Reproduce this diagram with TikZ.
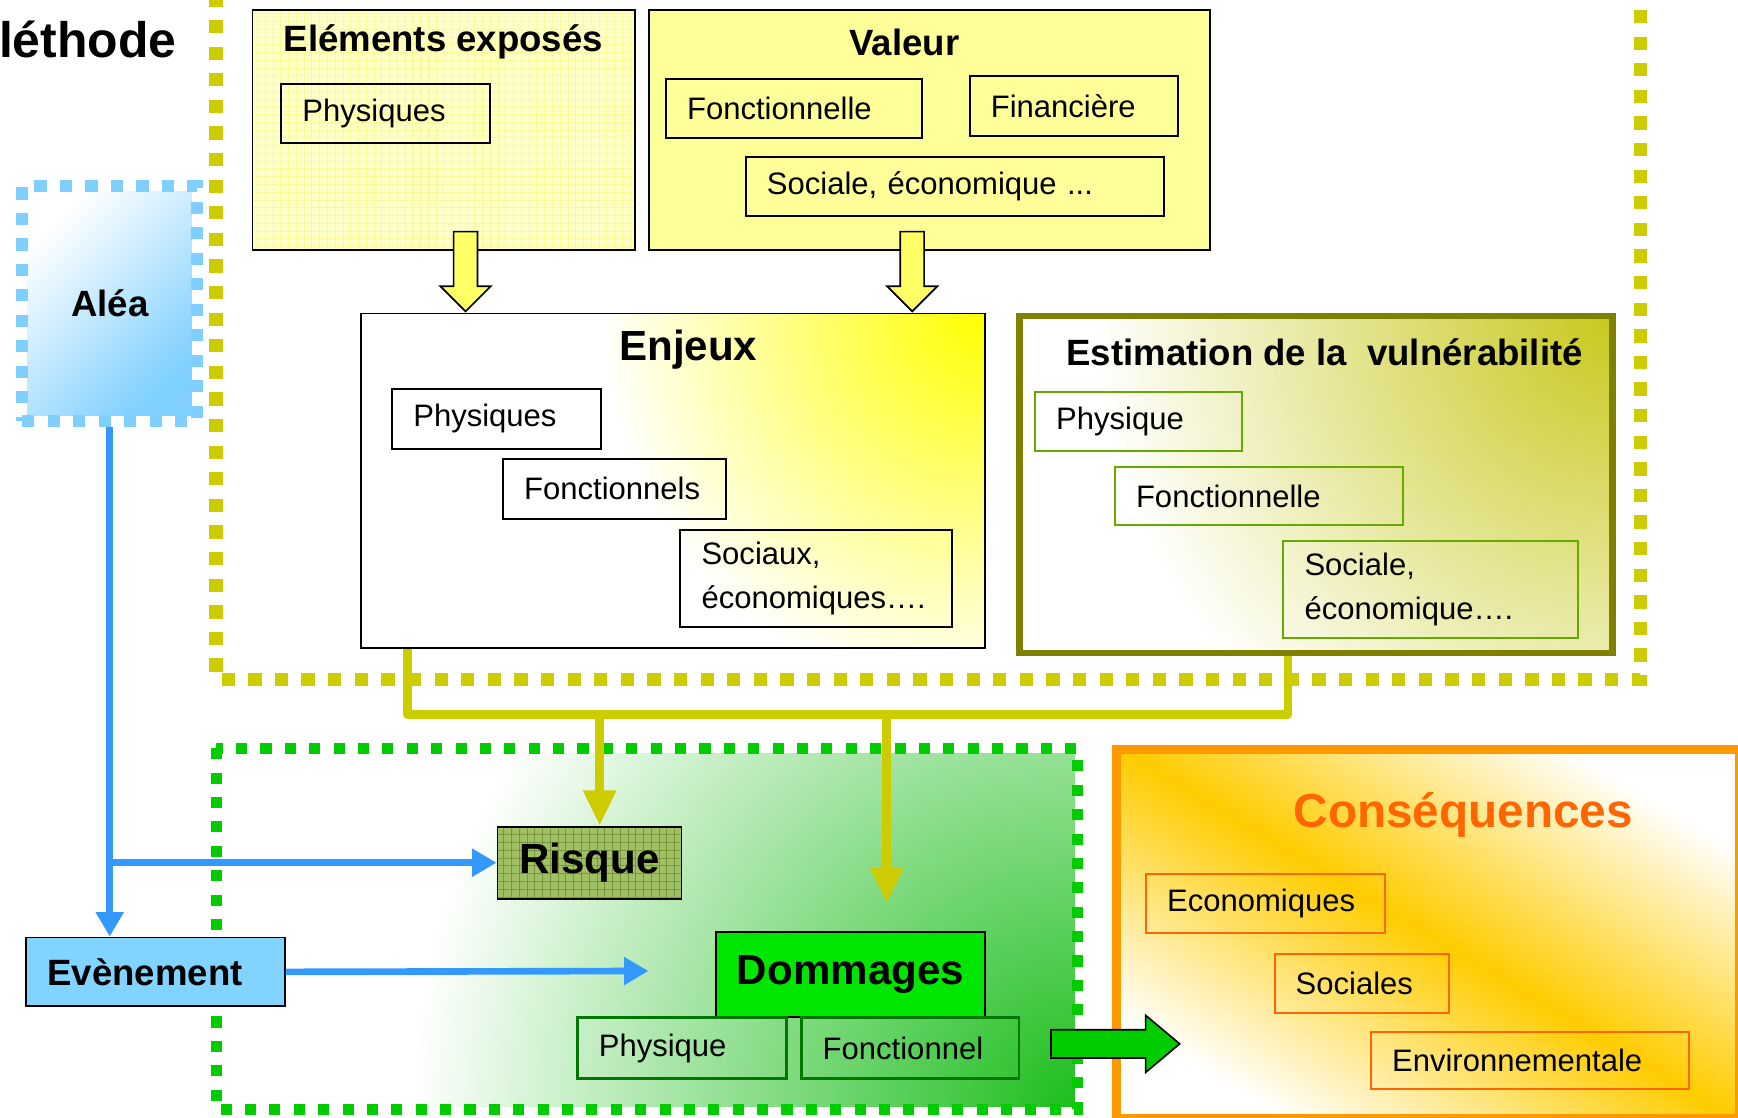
\documentclass[tikz,border=0pt]{standalone}
\usepackage{fontspec}
\setmainfont{Liberation Sans}
\usepackage{tikz}
\usetikzlibrary{arrows.meta, shapes.arrows, calc}

\definecolor{jauneCadre}{RGB}{204,204,0}
\definecolor{jauneEE}{RGB}{255,255,200}
\definecolor{jauneGrille}{RGB}{250,250,150}
\definecolor{jauneVal}{RGB}{255,255,153}
\definecolor{jauneFleche}{RGB}{255,255,102}
\definecolor{oliveBord}{RGB}{128,128,0}
\definecolor{oliveJaune}{RGB}{200,200,30}
\definecolor{vertFin}{RGB}{102,170,0}
\definecolor{vertCadre}{RGB}{0,204,0}
\definecolor{vertFond}{RGB}{30,190,30}
\definecolor{risqueVert}{RGB}{160,192,100}
\definecolor{risqueGrille}{RGB}{120,150,60}
\definecolor{vertDomm}{RGB}{0,230,0}
\definecolor{vertSombre}{RGB}{0,120,0}
\definecolor{bleuCadre}{RGB}{128,208,255}
\definecolor{bleuEvt}{RGB}{128,212,255}
\definecolor{bleuLien}{RGB}{51,153,255}
\definecolor{orangeBord}{RGB}{255,153,0}
\definecolor{orangeTexte}{RGB}{255,102,0}
\definecolor{orBande}{RGB}{255,204,0}
\definecolor{vertFleche}{RGB}{0,204,0}

% halos radiaux (couleur au centre, blanc avant le bord)
\pgfdeclareradialshading{haloJaune}{\pgfpoint{0bp}{0bp}}
  {color(0bp)=(yellow); color(15bp)=(white); color(50bp)=(white)}
\pgfdeclareradialshading{haloOlive}{\pgfpoint{0bp}{0bp}}
  {color(0bp)=(oliveJaune); color(15bp)=(white); color(50bp)=(white)}
\pgfdeclareradialshading{haloVert}{\pgfpoint{0bp}{0bp}}
  {color(0bp)=(vertFond); color(15bp)=(white); color(50bp)=(white)}

\begin{document}
\begin{tikzpicture}[x=1pt, y=-1pt,
    every node/.style={inner sep=0pt},
    cadre/.style={line width=12pt, dash pattern=on 12pt off 12pt},
    panneau/.style={draw, line width=1.6pt, anchor=north west},
    titre/.style={font=\bfseries\fontsize{33}{40}\selectfont},
    grostitre/.style={font=\bfseries\fontsize{38}{46}\selectfont},
    boite/.style={draw, line width=1.8pt, anchor=north west, align=left,
      inner xsep=19pt, font=\fontsize{28}{39}\selectfont},
    quadrille/.style={path picture={\draw[#1, line width=0.6pt]
      (path picture bounding box.south west) grid[step=7pt]
      (path picture bounding box.north east);}},
    halo/.style n args={3}{path picture={\shade[shading=#1]
      (path picture bounding box.#2) circle (#3);}},
    lienJaune/.style={jauneCadre, line width=8pt, line join=round},
    lienBleu/.style={bleuLien, line width=6pt,
      -{Triangle[length=22pt,width=24pt]}},
    bloc/.style={single arrow, draw, line width=1.5pt,
      single arrow head indent=0pt}
  ]
  \useasboundingbox (0,0) rectangle (1568,1008);

  % cadre de la methode
  \draw[cadre, jauneCadre] (195,-6) -- (195,613) -- (1480,613) -- (1480,-6);

  \node[panneau, fill=jauneEE, quadrille=jauneGrille,
    minimum width=345pt, minimum height=217pt] (ee) at (227,8) {};
  \node[titre] (eeTitre) at (400,38) {Eléments exposés};
  \node[boite, text width=150pt, minimum height=53pt] (eePhy) at (253,75) {Physiques};

  \node[panneau, fill=jauneVal, minimum width=506pt, minimum height=217pt] (val) at (585,8) {};
  \node[titre] (valTitre) at (816,38) {Valeur};
  \node[boite, text width=193pt, minimum height=54pt] (valFon) at (600,70) {Fonctionnelle};
  \node[boite, text width=150pt, minimum height=54pt] (valFin) at (874,68) {Financière};
  \node[boite, text width=339pt, minimum height=53pt] (valSoc) at (672,141) {Sociale, économique ...};

  \node[panneau, fill=white, halo={haloJaune}{north east}{580pt},
    minimum width=563pt, minimum height=302pt] (enj) at (325,282) {};
  \node[grostitre] (enjTitre) at (621,315) {Enjeux};
  \node[boite, text width=150pt, minimum height=54pt] (enjPhy) at (353,350) {Physiques};
  \node[boite, text width=163pt, minimum height=54pt] (enjFon) at (453,413) {Fonctionnels};
  \node[boite, text width=207pt, minimum height=88pt] (enjSoc) at (613,477) {Sociaux,\\économiques….};

  \node[bloc, fill=jauneFleche, shape border rotate=270, inner sep=10pt,
    single arrow head extend=12pt, minimum height=72pt, anchor=tip]
    (flEE) at ($(enj.north west)+(95,0)$) {};
  \node[bloc, fill=jauneFleche, shape border rotate=270, inner sep=10pt,
    single arrow head extend=12pt, minimum height=72pt, anchor=tip]
    (flVal) at ($(enj.north west)+(498,0)$) {};

  \node[panneau, draw=oliveBord, line width=6pt, fill=white,
    halo={haloOlive}{north east}{780pt},
    minimum width=535pt, minimum height=304pt] (est) at (917,282) {};
  \node[titre] (estTitre) at (1195,318) {Estimation de la\ \ vulnérabilité};
  \node[boite, draw=vertFin, text width=149pt, minimum height=53pt] (estPhy) at (933,353) {Physique};
  \node[boite, draw=vertFin, text width=222pt, minimum height=53pt] (estFon) at (1005,420) {Fonctionnelle};
  \node[boite, draw=vertFin, text width=228pt, minimum height=88pt] (estSoc) at (1157,487) {Sociale,\\économique….};

  % zone des dommages
  \path[halo={haloVert}{south east}{1000pt}] (200,680) rectangle (970,998);
  \draw[cadre, vertCadre, line width=10pt, dash pattern=on 10pt off 12pt]
    (195,675) rectangle (972,1001);

  \shade[top color=white, bottom color=bleuCadre, shading angle=45] (25,173) rectangle (173,375);
  \node[draw=bleuCadre, line width=11pt, dash pattern=on 11pt off 12pt,
    minimum width=158pt, minimum height=212pt, titre] (ale) at (99,274) {Aléa};

  \node[panneau, fill=bleuEvt, text width=195pt, align=left, inner xsep=19pt,
    minimum height=62pt, titre] (evt) at (23,845) {Evènement};
  \node[panneau, fill=risqueVert, quadrille=risqueGrille, minimum width=166pt,
    minimum height=65pt, grostitre] (ris) at (448,745) {Risque};
  \node[panneau, fill=vertDomm, minimum width=243pt, minimum height=77pt,
    grostitre] (dom) at (645,840) {Dommages};
  \node[boite, draw=vertSombre, line width=2.5pt, text width=150pt, minimum height=55pt]
    (domPhy) at (520,917) {Physique};
  \node[boite, draw=vertSombre, line width=2.5pt, text width=158pt, minimum height=55pt]
    (domFon) at (722,917) {Fonctionnel};

  % liens
  \coordinate (busRis) at (541,644);
  \coordinate (busDom) at (800,644);
  \coordinate (domCible) at (800,815);
  \coordinate (evtFin) at (585,876);
  \draw[lienJaune] ($(enj.south west)+(43,0)$) -- ++(0,59) -| ($(est.south west)+(245,0)$);
  \draw[lienJaune, -{Triangle[length=32pt,width=28pt]}] (busRis) -- (busRis |- ris.north);
  \draw[lienJaune, -{Triangle[length=32pt,width=28pt]}] (busDom) -- (domCible);

  \draw[lienBleu] (ale.south) -- (ale.south |- evt.north);
  \draw[lienBleu] (ale.south |- ris.west) -- (ris.west);
  \draw[lienBleu] (evt.east) -- (evtFin);

  % consequences
  \node[panneau, draw=orangeBord, line width=8pt, minimum width=562pt, minimum height=333pt,
    top color=white, bottom color=white, middle color=orBande, shading angle=-31]
    (csq) at (1003,672) {};
  \node[font=\bfseries\fontsize{43}{50}\selectfont, text=orangeTexte] (csqTitre) at (1320,735) {Conséquences};
  \node[boite, draw=orangeTexte, text width=178pt, minimum height=53pt] (csqEco) at (1033,788) {Economiques};
  \node[boite, draw=orangeTexte, text width=119pt, minimum height=53pt] (csqSoc) at (1149,860) {Sociales};
  \node[boite, draw=orangeTexte, text width=249pt, minimum height=52pt] (csqEnv) at (1236,930) {Environnementale};

  \node[bloc, fill=vertFleche, inner sep=12pt, single arrow head extend=13pt,
    single arrow tip angle=80, minimum height=116pt, anchor=tail]
    (flDom) at ($(domFon.east)+(27,-4)$) {};

  \node[font=\bfseries\fontsize{45}{54}\selectfont, anchor=west] (methode) at (-1,36) {léthode};
\end{tikzpicture}
\end{document}
